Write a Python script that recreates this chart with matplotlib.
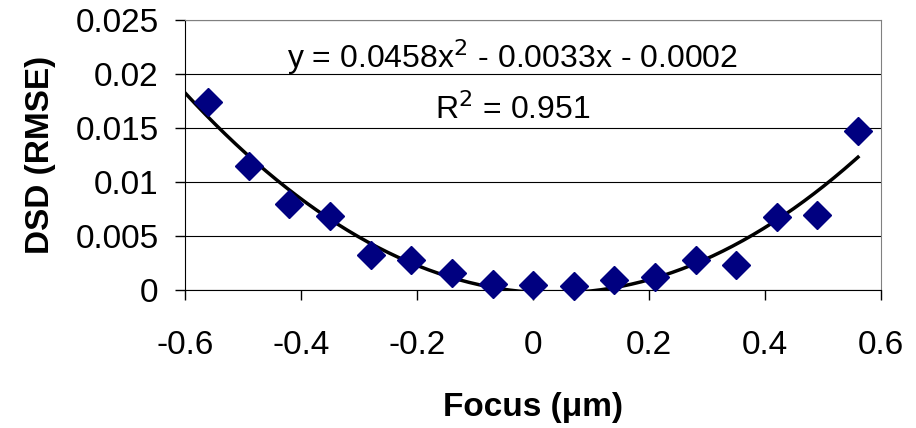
import matplotlib
matplotlib.use("Agg")
import matplotlib.pyplot as plt
import numpy as np

plt.rcParams['font.family'] = ['Liberation Sans', 'DejaVu Sans']

# measured data (focus in um, DSD as RMSE)
focus = [-0.56, -0.49, -0.42, -0.35, -0.28, -0.21, -0.14, -0.07, 0.0,
         0.07, 0.14, 0.21, 0.28, 0.35, 0.42, 0.49, 0.56]
dsd = [0.0174, 0.0115, 0.0080, 0.0069, 0.0033, 0.0028, 0.0016, 0.0006, 0.0005,
       0.0004, 0.0009, 0.0012, 0.0028, 0.0023, 0.0068, 0.0070, 0.0147]

# quadratic trendline coefficients as printed on the chart
trend_coef = [0.0458, -0.0033, -0.0002]
trend_range = [-0.6, 0.56]

xticks = [-0.6, -0.4, -0.2, 0, 0.2, 0.4, 0.6]
yticks = [0, 0.005, 0.01, 0.015, 0.02, 0.025]
xtick_labels = ['-0.6', '-0.4', '-0.2', '0', '0.2', '0.4', '0.6']
ytick_labels = ['0', '0.005', '0.01', '0.015', '0.02', '0.025']

fig = plt.figure(figsize=(9.16, 4.28), dpi=100)
ax = fig.add_axes([0.202, 0.322, 0.760, 0.631])

xs = np.linspace(trend_range[0], trend_range[1], 200)
ax.plot(xs, np.polyval(trend_coef, xs), color='black', lw=2.5, zorder=3)
ax.plot(focus, dsd, 'D', color='#000080', ms=14, mec='#000080', zorder=4,
        clip_on=False)

ax.set_xlim(-0.6, 0.6)
ax.set_ylim(0, 0.025)
ax.set_xticks(xticks)
ax.set_xticklabels(xtick_labels)
ax.set_yticks(yticks)
ax.set_yticklabels(ytick_labels)
ax.tick_params(direction='out', length=7, width=1, labelsize=24, pad=12)
ax.tick_params(axis='x', pad=22)
ax.yaxis.grid(True, color='black', lw=0.8)
ax.set_axisbelow(True)

for s in ['top', 'right']:
    ax.spines[s].set_color('#808080')
for s in ['left', 'bottom']:
    ax.spines[s].set_color('black')

ax.set_xlabel('Focus (\u03bcm)', fontsize=24, fontweight='bold', labelpad=22)
ax.set_ylabel('DSD (RMSE)', fontsize=24, fontweight='bold', labelpad=14)

ax.text(0.47, 0.863, 'y = 0.0458x$^2$ - 0.0033x - 0.0002', transform=ax.transAxes,
        ha='center', va='center', fontsize=23)
ax.text(0.47, 0.667, 'R$^2$ = 0.951', transform=ax.transAxes,
        ha='center', va='center', fontsize=23)

fig.savefig('out.png', dpi=100)
